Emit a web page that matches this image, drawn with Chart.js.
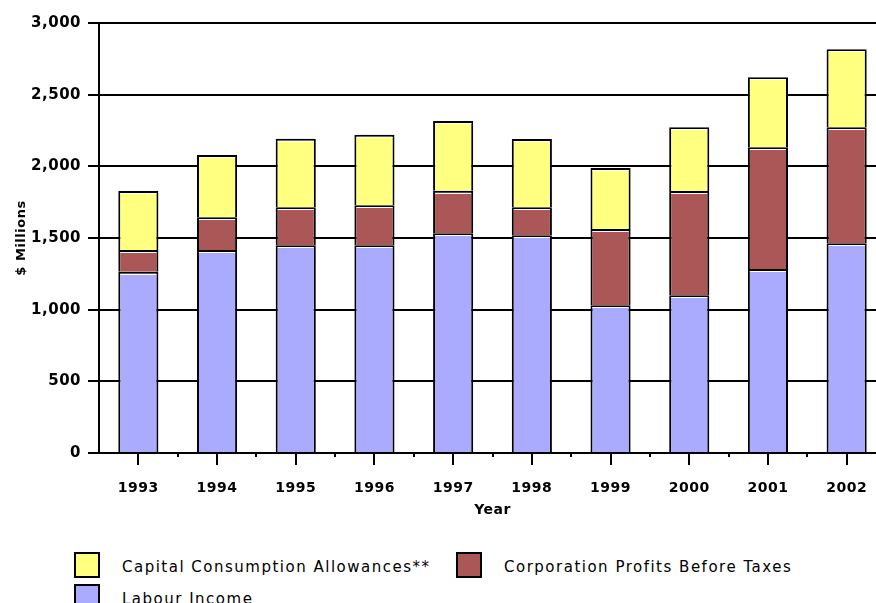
<!DOCTYPE html>
<html>
<head>
<meta charset="utf-8">
<title>Income components 1993-2002</title>
<script src="https://cdn.jsdelivr.net/npm/chart.js@4.4.1/dist/chart.umd.min.js"></script>
<style>
  html, body { margin: 0; padding: 0; background: #fff; overflow: hidden; }
  body { width: 876px; height: 603px; position: relative; }
  #chart { position: absolute; left: 0; top: 0; }
  #legend {
    position: absolute; left: 74px; top: 552px;
    display: grid; grid-template-columns: 382px auto; grid-auto-rows: 32px;
    font-family: 'DejaVu Sans', sans-serif; font-size: 15px; letter-spacing: 1.5px; color: #000;
  }
  .item { display: flex; align-items: center; height: 26px; white-space: nowrap; }
  .item span:last-child { position: relative; top: 2px; }
  .swatch { width: 22px; height: 22px; border: 2px solid #000; margin-right: 22px; box-sizing: content-box; }
</style>
</head>
<body>
<canvas id="chart" width="890" height="530"></canvas>
<div id="legend"></div>
<script>
// data, $ millions
const years = ['1993', '1994', '1995', '1996', '1997', '1998', '1999', '2000', '2001', '2002'];
const labourIncome = [1265, 1416, 1449, 1449, 1533, 1519, 1030, 1100, 1284, 1463];
const corpProfits = [151, 228, 265, 279, 297, 195, 533, 728, 849, 809];
const capitalAllowances = [412, 435, 479, 493, 486, 477, 425, 444, 488, 544];
const yTicks = [0, 500, 1000, 1500, 2000, 2500, 3000];

const FONT = 'DejaVu Sans';

// stacking order bottom -> top
const series = [
  { label: 'Labour Income', data: labourIncome, color: '#aaaaff' },
  { label: 'Corporation Profits Before Taxes', data: corpProfits, color: '#ab5757' },
  { label: 'Capital Consumption Allowances**', data: capitalAllowances, color: '#ffff80' }
];

// canvas text in the reference is a little spaced out
const spacingPlugin = {
  id: 'spacing',
  beforeUpdate(chart) { chart.ctx.letterSpacing = '0.5px'; },
  beforeDraw(chart) { chart.ctx.letterSpacing = '0.5px'; }
};

// thin white highlight under the top edge of every segment
const highlightPlugin = {
  id: 'highlight',
  afterDatasetsDraw(chart) {
    const ctx = chart.ctx;
    ctx.save();
    ctx.strokeStyle = '#ffffff';
    ctx.lineWidth = 1;
    chart.data.datasets.forEach((ds, i) => {
      chart.getDatasetMeta(i).data.forEach(bar => {
        const half = bar.width / 2;
        ctx.beginPath();
        ctx.moveTo(bar.x - half + 2, Math.round(bar.y) + 2.5);
        ctx.lineTo(bar.x + half - 2, Math.round(bar.y) + 2.5);
        ctx.stroke();
      });
    });
    ctx.restore();
  }
};

// short marks between categories on the x axis
const minorTicksPlugin = {
  id: 'minorTicks',
  afterDraw(chart) {
    const x = chart.scales.x;
    const ctx = chart.ctx;
    const half = (x.getPixelForValue(1) - x.getPixelForValue(0)) / 2;
    ctx.save();
    ctx.strokeStyle = '#000';
    ctx.lineWidth = 2;
    ctx.beginPath();
    for (let i = 0; i < years.length; i++) {
      const px = Math.round(x.getPixelForValue(i) + half);
      ctx.moveTo(px, x.top);
      ctx.lineTo(px, x.top + 4);
    }
    ctx.stroke();
    ctx.restore();
  }
};

const chart = new Chart(document.getElementById('chart'), {
  type: 'bar',
  data: {
    labels: years,
    datasets: series.map(s => ({
      label: s.label,
      data: s.data,
      backgroundColor: s.color,
      borderColor: '#000',
      borderWidth: 2,
      borderSkipped: 'start',
      barPercentage: 0.51,
      categoryPercentage: 1
    }))
  },
  options: {
    responsive: false,
    animation: false,
    devicePixelRatio: 1,
    layout: { padding: { top: 23, right: 4, bottom: 0, left: 0 } },
    plugins: {
      legend: { display: false },
      tooltip: { enabled: false }
    },
    scales: {
      x: {
        stacked: true,
        afterFit: scale => { scale.height = 77; },
        grid: { offset: false, drawOnChartArea: false, color: '#000', lineWidth: 2, tickLength: 12 },
        border: { color: '#000', width: 2 },
        ticks: { color: '#000', padding: 15, font: { family: FONT, size: 14, weight: 'bold' } },
        title: {
          display: true, text: 'Year', color: '#000',
          font: { family: FONT, size: 14, weight: 'bold' },
          padding: { top: 0, bottom: 11 }
        }
      },
      y: {
        stacked: true,
        min: 0,
        max: 3000,
        afterFit: scale => { scale.width = 99; },
        afterBuildTicks: scale => { scale.ticks = yTicks.map(v => ({ value: v })); },
        grid: { color: '#000', lineWidth: 2, tickLength: 11 },
        border: { color: '#000', width: 2 },
        ticks: {
          color: '#000', padding: 7,
          font: { family: FONT, size: 15, weight: 'bold' },
          callback: v => Number(v).toLocaleString('en-US')
        },
        title: {
          display: true, text: '$ Millions', color: '#000',
          font: { family: FONT, size: 13, weight: 'bold' },
          padding: { top: 14, bottom: 0 }
        }
      }
    }
  },
  plugins: [spacingPlugin, highlightPlugin, minorTicksPlugin]
});

// html legend, top series first
const legend = document.getElementById('legend');
series.slice().reverse().forEach(s => {
  const item = document.createElement('div');
  item.className = 'item';
  const sw = document.createElement('span');
  sw.className = 'swatch';
  sw.style.background = s.color;
  const txt = document.createElement('span');
  txt.textContent = s.label;
  item.appendChild(sw);
  item.appendChild(txt);
  legend.appendChild(item);
});
</script>
</body>
</html>
